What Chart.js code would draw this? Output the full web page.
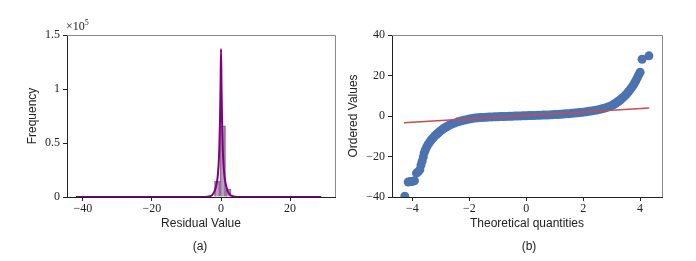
<!DOCTYPE html>
<html>
<head>
<meta charset="utf-8">
<script src="https://cdn.jsdelivr.net/npm/chart.js@4.4.1/dist/chart.umd.min.js"></script>
<style>
  body { margin: 0; background: #fff; }
  #wrap { position: relative; width: 696px; height: 261px; overflow: hidden; }
  canvas { position: absolute; left: 0; top: 0; }
  .cap { position: absolute; font: 12px "Liberation Sans", sans-serif; color: #222; transform: translate(-50%, -50%); }
  #mult { position: absolute; left: 66px; top: 18px; font: 12px "Liberation Serif", serif; color: #222; }
  #mult sup { font-size: 8px; }
</style>
</head>
<body>
<div id="wrap">
  <canvas id="histChart" width="696" height="261"></canvas>
  <canvas id="qqChart" width="696" height="261"></canvas>
  <div id="mult">&times;10<sup>5</sup></div>
  <div class="cap" style="left:200px; top:246px">(a)</div>
  <div class="cap" style="left:529px; top:246px">(b)</div>
</div>
<script>
// histogram (a)
const histCenters = [-1.1, 0.5, 2.1];
const histCounts = [14800, 66000, 7400];
const kdeX = [-42, -6, -4, -3, -2.5, -2, -1.5, -1, -0.7, -0.5, -0.3, -0.15, 0, 0.15, 0.3, 0.5, 0.7, 1, 1.5, 2, 2.5, 3, 4, 6, 29];
const kdeY = [0, 0, 200, 1000, 2000, 4500, 9000, 18000, 30000, 45000, 70000, 100000, 137000, 100000, 70000, 46000, 31000, 19000, 10000, 5000, 2500, 1200, 300, 0, 0];
const histXTicks = [-40, -20, 0, 20];
const histYTicks = [0, 50000, 100000, 150000];

// Q-Q plot (b)
const qqX = [
  -4.27, -4.15, -4.08, -4.0, -3.93, -3.86, -3.8, -3.74, -3.7, -3.66, -3.62, -3.59, -3.55, -3.5,
  -3.45, -3.4, -3.35, -3.3, -3.25, -3.2, -3.15, -3.1, -3.05, -3.0, -2.95, -2.9, -2.85, -2.8,
  -2.75, -2.7, -2.6, -2.5, -2.4, -2.3, -2.2, -2.1, -2.0, -1.9, -1.8, -1.7, -1.6, -1.5, -1.4,
  -1.3, -1.2, -1.1, -1.0, -0.9, -0.8, -0.7, -0.6, -0.5, -0.4, -0.3, -0.2, -0.1, 0, 0.1, 0.2,
  0.3, 0.4, 0.5, 0.6, 0.7, 0.8, 0.9, 1.0, 1.1, 1.2, 1.3, 1.4, 1.5, 1.6, 1.7, 1.8, 1.9, 2.0,
  2.1, 2.2, 2.3, 2.4, 2.5, 2.6, 2.7, 2.8, 2.9, 3.0, 3.05, 3.1, 3.15, 3.2, 3.25, 3.3, 3.35,
  3.4, 3.45, 3.5, 3.55, 3.6, 3.65, 3.7, 3.75, 3.8, 3.85, 3.9, 3.95, 4.0, 4.07, 4.31
];
const qqY = [
  -39.6, -32.6, -32.4, -32.3, -32.0, -28.2, -27.6, -26.5, -24.2, -22.3, -20.2, -18.2, -16.8, -15.3,
  -14.0, -13.0, -12.0, -11.2, -10.4, -9.6, -9.0, -8.4, -7.8, -7.2, -6.7, -6.2, -5.7, -5.3,
  -4.9, -4.5, -3.9, -3.4, -2.9, -2.5, -2.1, -1.8, -1.5, -1.2, -1.0, -0.9, -0.8, -0.7, -0.6,
  -0.5, -0.45, -0.4, -0.35, -0.3, -0.25, -0.2, -0.15, -0.1, -0.05, 0, 0.05, 0.1, 0.15, 0.2, 0.25,
  0.3, 0.35, 0.4, 0.45, 0.5, 0.55, 0.6, 0.7, 0.75, 0.85, 0.95, 1.05, 1.15, 1.3, 1.45, 1.6, 1.75, 1.9,
  2.1, 2.3, 2.5, 2.75, 3.0, 3.3, 3.7, 4.1, 4.6, 5.1, 5.5, 5.9, 6.4, 6.9, 7.4, 7.9, 8.5,
  9.1, 9.8, 10.5, 11.3, 12.1, 13.0, 14.0, 15.0, 16.2, 17.4, 18.8, 20.3, 21.6, 28.0, 29.7
];
const fitX = [-4.3, 4.32];
const fitY = [-3.3, 4.0];
const qqXTicks = [-4, -2, 0, 2, 4];
const qqYTicks = [-40, -20, 0, 20, 40];

const tickFont = { family: '"Liberation Serif", serif', size: 12 };
const labelFont = { family: '"Liberation Sans", sans-serif', size: 12 };
const minus = v => (v < 0 ? '\u2212' + Math.abs(v) : String(v));

// top and right spines in grey
const frame = {
    id: 'frame',
    afterDraw(chart) {
        const a = chart.chartArea, ctx = chart.ctx;
        ctx.save();
        ctx.strokeStyle = '#8a8a8a';
        ctx.lineWidth = 1;
        ctx.beginPath();
        ctx.moveTo(a.left, a.top + 0.5);
        ctx.lineTo(a.right + 0.5, a.top + 0.5);
        ctx.lineTo(a.right + 0.5, a.bottom);
        ctx.stroke();
        ctx.restore();
    }
};

function axis(min, max, ticks, title, fmt, size, isY) {
    return {
        type: 'linear',
        min: min,
        max: max,
        offset: false,
        afterBuildTicks: a => { a.ticks = ticks.map(v => ({ value: v })); },
        afterFit: a => { if (isY) a.width = size; else a.height = size; },
        grid: { offset: false, drawOnChartArea: false, drawTicks: true, tickLength: 4, color: '#222' },
        border: { display: true, color: '#222', width: 1 },
        ticks: { font: tickFont, color: '#222', padding: isY ? 3 : 1, maxRotation: 0, callback: fmt },
        title: { display: true, text: title, font: labelFont, color: '#222', padding: 0 }
    };
}

new Chart(document.getElementById('histChart').getContext('2d'), {
    type: 'bar',
    data: {
        datasets: [{
            type: 'line',
            data: kdeX.map((x, i) => ({ x: x, y: kdeY[i] })),
            borderColor: '#800080',
            borderWidth: 2,
            pointRadius: 0,
            cubicInterpolationMode: 'monotone',
            clip: 0
        }, {
            data: histCenters.map((x, i) => ({ x: x, y: histCounts[i] })),
            backgroundColor: 'rgba(150, 90, 160, 0.6)',
            borderColor: 'rgba(120, 110, 125, 0.9)',
            borderWidth: 1,
            barPercentage: 1,
            categoryPercentage: 1
        }]
    },
    options: {
        responsive: false,
        animation: false,
        layout: { padding: { left: 25, right: 361, top: 35, bottom: 29.8 } },
        plugins: { legend: { display: false }, tooltip: { enabled: false } },
        scales: {
            x: axis(-44.6, 33, histXTicks, 'Residual Value', minus, 34.2, false),
            y: axis(0, 150000, histYTicks, 'Frequency', v => String(v / 100000), 42, true)
        }
    },
    plugins: [frame]
});

new Chart(document.getElementById('qqChart').getContext('2d'), {
    type: 'scatter',
    data: {
        datasets: [{
            type: 'line',
            data: fitX.map((x, i) => ({ x: x, y: fitY[i] })),
            borderColor: '#c44e52',
            borderWidth: 1.5,
            pointRadius: 0
        }, {
            data: qqX.map((x, i) => ({ x: x, y: qqY[i] })),
            backgroundColor: '#4c72b0',
            borderWidth: 0,
            pointRadius: 4.5,
            clip: 0
        }]
    },
    options: {
        responsive: false,
        animation: false,
        layout: { padding: { left: 346, right: 34, top: 35, bottom: 29.8 } },
        plugins: { legend: { display: false }, tooltip: { enabled: false } },
        scales: {
            x: axis(-4.72, 4.77, qqXTicks, 'Theoretical quantities', minus, 34.2, false),
            y: axis(-40, 40, qqYTicks, 'Ordered Values', minus, 46, true)
        }
    },
    plugins: [frame]
});
</script>
</body>
</html>
